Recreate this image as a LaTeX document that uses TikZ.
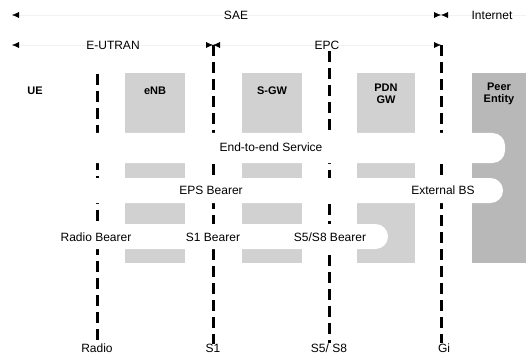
\documentclass[tikz,border=0pt]{standalone}
\usepackage{fontspec}
\setmainfont{Liberation Sans}
\usetikzlibrary{arrows.meta}
\begin{document}
\begin{tikzpicture}[x=1pt,y=-1pt,
  lbl/.style={font=\fontsize{12}{14}\selectfont, inner sep=0pt},
  ent/.style={font=\fontsize{11}{12.5}\selectfont\bfseries, align=center, inner sep=0pt},
  column/.style={fill=black!18, draw=none, inner sep=0pt},
  peercol/.style={column, fill=black!28},
  band/.style={fill=white, draw=none, rounded corners=12.5pt},
  iface/.style={line width=3pt, dash pattern=on 11pt off 6pt},
  span/.style={draw=black!5, line width=0.4pt, {Latex[color=black,length=7pt,width=6pt]}-{Latex[color=black,length=7pt,width=6pt]}},
  halfspan/.style={draw=black!5, line width=0.4pt, {Latex[color=black,length=7pt,width=6pt]}-},
]
\useasboundingbox (0,0) rectangle (526,358);

% entity columns
\node[column, minimum width=60pt, minimum height=190pt] (enbcol) at (155,168) {};
\node[column, minimum width=60pt, minimum height=190pt] (sgwcol) at (272,168) {};
\node[column, minimum width=58pt, minimum height=190pt] (pdncol) at (386,168) {};
\node[peercol, minimum width=56pt, minimum height=190pt] (peercol) at (500,168) {};

% entity labels
\node[ent] (ue) at (35,91) {UE};
\node[ent] (enb) at (155,91) {eNB};
\node[ent] (sgw) at (272,91) {S-GW};
\node[ent] (pdn) at (386,94) {PDN\\GW};
\node[ent] (peer) at (499,94) {Peer\\Entity};

% top spans
\coordinate (saeL) at (12,15);
\coordinate (saeR) at (441,15);
\coordinate (inetR) at (540,15);
\coordinate (eutL) at (12,45);
\coordinate (s1top) at (213,45);
\coordinate (gitop) at (441,45);
\draw[span] (saeL) -- (saeR);
\draw[halfspan] (saeR) -- (inetR);
\draw[span] (eutL) -- (s1top);
\draw[span] (s1top) -- (gitop);
\node[lbl] (sae) at (236,15) {SAE};
\node[lbl] (inet) at (492,15) {Internet};
\node[lbl] (eutran) at (113,45) {E-UTRAN};
\node[lbl] (epc) at (327,45) {EPC};

% interfaces
\coordinate (radiotop) at (97,74);
\node[lbl] (radio) at (97,348) {Radio};
\node[lbl] (s1) at (213,348) {S1};
\node[lbl] (s5) at (329,348) {S5/ S8};
\node[lbl] (gi) at (444,348) {Gi};
\draw[iface] (radiotop) -- (radio.north);
\draw[iface] (s1top) -- (s1.north);
\draw[iface] (epc.south) ++(2,2) coordinate (s5top) -- (s5top |- s5.north);
\draw[iface] (gitop) -- (gitop |- gi.north);

% bearer bands
\fill[band] (-30,133) rectangle (505,163);
\fill[band] (-30,178) rectangle (503,203);
\fill[band] (-30,224) rectangle (388,249);

\node[lbl] (e2e) at (271,147) {End-to-end Service};
\node[lbl] (eps) at (211,190) {EPS Bearer};
\node[lbl] (ext) at (443,190) {External BS};
\node[lbl] (rb) at (96,237) {Radio Bearer};
\node[lbl] (s1b) at (213,237) {S1 Bearer};
\node[lbl] (s5b) at (330,237) {S5/S8 Bearer};
\end{tikzpicture}
\end{document}
